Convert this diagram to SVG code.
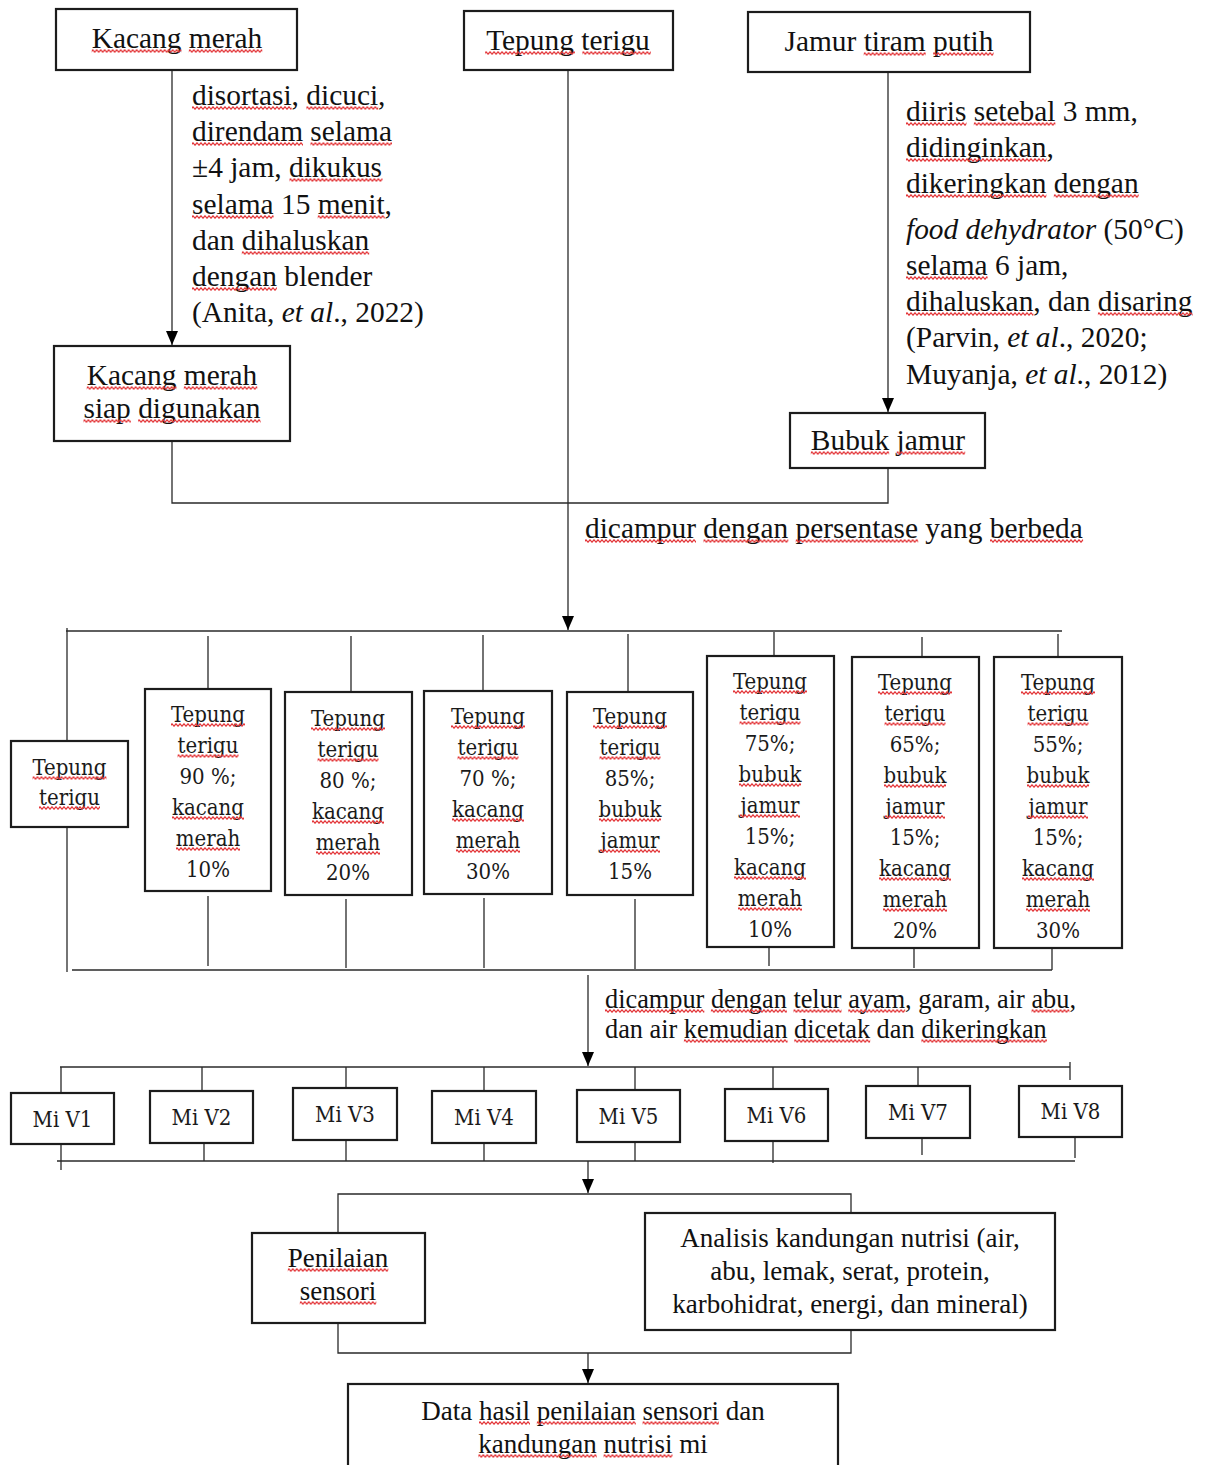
<svg xmlns="http://www.w3.org/2000/svg" width="1212" height="1465" viewBox="0 0 1212 1465">
<style>
.box{fill:#fff;stroke:#1c1c1c;stroke-width:2.2}
.ln{fill:none;stroke:#2a2a2a;stroke-width:1.3}
.t{font-family:'Liberation Serif','Times New Roman',serif;fill:#111;font-size:29.4px}
.b{font-family:'Liberation Serif','Times New Roman',serif;fill:#111;font-size:27px}
.s{font-family:'Liberation Serif','Times New Roman',serif;fill:#111;font-size:26.3px}
.c{font-family:'DejaVu Serif Condensed','DejaVu Serif',serif;font-stretch:condensed;fill:#1a1a1a;font-size:22px}
.m{text-anchor:middle}
.i{font-style:italic}
.w{fill:url(#wv)}
</style>
<defs>
<marker id="ah" viewBox="0 0 14 12" refX="14" refY="6" markerWidth="14" markerHeight="12" markerUnits="userSpaceOnUse" orient="auto">
<path d="M0,0 L14,6 L0,12 z" fill="#000"/>
</marker>
<pattern id="wv" width="4" height="4" patternUnits="userSpaceOnUse">
<path d="M-1,3.2 L1,0.8 L3,3.2 L5,0.8" fill="none" stroke="#e33538" stroke-width="1.15"/>
</pattern>
</defs>
<rect width="1212" height="1465" fill="#fff"/>

<g id="connectors">
<line class="ln" x1="172" y1="70" x2="172" y2="345" marker-end="url(#ah)"/>
<line class="ln" x1="568" y1="70" x2="568" y2="630" marker-end="url(#ah)"/>
<line class="ln" x1="888" y1="72" x2="888" y2="412" marker-end="url(#ah)"/>
<polyline class="ln" points="172,441 172,503 888,503 888,468"/>
<line class="ln" x1="66" y1="631" x2="1062" y2="631"/>
<line class="ln" x1="67" y1="628" x2="67" y2="741"/>
<line class="ln" x1="67" y1="827" x2="67" y2="972"/>
<path class="ln" d="M208,636V689 M351,636V692 M483,635V691 M628,634V692 M774,632V656 M922,637V657 M1058,634V657"/>
<path class="ln" d="M208,896V966 M346,899V968 M484,898V968 M635,899V969 M769,947V966 M914,948V968 M1052,948V970"/>
<line class="ln" x1="72" y1="970" x2="1052" y2="970"/>
<line class="ln" x1="588" y1="975" x2="588" y2="1066" marker-end="url(#ah)"/>
<line class="ln" x1="60" y1="1067" x2="1070" y2="1067"/>
<path class="ln" d="M1070,1062V1080 M61,1067V1093 M202,1067V1091 M346,1067V1088 M484,1067V1091 M635,1067V1090 M773,1067V1089 M918,1067V1086"/>
<path class="ln" d="M61,1144V1170 M204,1143V1161 M346,1140V1161 M484,1143V1161 M635,1142V1161 M773,1141V1163 M922,1138V1155 M1075,1137V1158"/>
<line class="ln" x1="57" y1="1161" x2="1075" y2="1161"/>
<line class="ln" x1="588" y1="1161" x2="588" y2="1193" marker-end="url(#ah)"/>
<polyline class="ln" points="338,1233 338,1194 851,1194 851,1213"/>
<polyline class="ln" points="338,1323 338,1353 851,1353 851,1330"/>
<line class="ln" x1="588" y1="1353" x2="588" y2="1383" marker-end="url(#ah)"/>
</g>

<g id="n-kacang">
<rect class="box" x="56" y="9" width="241" height="61"/>
<text class="t m" x="177" y="48">Kacang merah</text>
</g>
<g id="lbl-kacang">
<text class="t" x="192" y="105">disortasi, dicuci,</text>
<text class="t" x="192" y="141">direndam selama</text>
<text class="t" x="192" y="177">±4 jam, dikukus</text>
<text class="t" x="192" y="214">selama 15 menit,</text>
<text class="t" x="192" y="250">dan dihaluskan</text>
<text class="t" x="192" y="286">dengan blender</text>
<text class="t" x="192" y="322">(Anita, <tspan class="i">et al</tspan>., 2022)</text>
</g>
<g id="n-tepung">
<rect class="box" x="464" y="11" width="209" height="59"/>
<text class="t m" x="568" y="50">Tepung terigu</text>
</g>
<g id="n-jamur">
<rect class="box" x="748" y="12" width="282" height="60"/>
<text class="t m" x="889" y="51">Jamur tiram putih</text>
</g>
<g id="lbl-jamur">
<text class="t" x="906" y="121">diiris setebal 3 mm,</text>
<text class="t" x="906" y="157">didinginkan,</text>
<text class="t" x="906" y="193">dikeringkan dengan</text>
<text class="t" x="906" y="239"><tspan class="i">food dehydrator</tspan> (50°C)</text>
<text class="t" x="906" y="275">selama 6 jam,</text>
<text class="t" x="906" y="311">dihaluskan, dan disaring</text>
<text class="t" x="906" y="347">(Parvin, <tspan class="i">et al</tspan>., 2020;</text>
<text class="t" x="906" y="384">Muyanja, <tspan class="i">et al</tspan>., 2012)</text>
</g>
<g id="n-kacang-siap">
<rect class="box" x="54" y="346" width="236" height="95"/>
<text class="t m" x="172" y="385">Kacang merah</text>
<text class="t m" x="172" y="418">siap digunakan</text>
</g>
<g id="n-bubuk">
<rect class="box" x="790" y="413" width="195" height="55"/>
<text class="t m" x="888" y="450">Bubuk jamur</text>
</g>
<g id="lbl-campur1">
<text class="t" x="585" y="538">dicampur dengan persentase yang berbeda</text>
</g>

<g id="n-v1">
<rect class="box" x="11" y="741" width="117" height="86"/>
<text class="c m" x="69.5" y="775">Tepung</text>
<text class="c m" x="69.5" y="805">terigu</text>
</g>
<g id="n-v2">
<rect class="box" x="145" y="689" width="126" height="202"/>
<text class="c m" x="208" y="722">Tepung</text>
<text class="c m" x="208" y="753">terigu</text>
<text class="c m" x="208" y="784">90 %;</text>
<text class="c m" x="208" y="815">kacang</text>
<text class="c m" x="208" y="846">merah</text>
<text class="c m" x="208" y="877">10%</text>
</g>
<g id="n-v3">
<rect class="box" x="285" y="692" width="127" height="203"/>
<text class="c m" x="348" y="726">Tepung</text>
<text class="c m" x="348" y="757">terigu</text>
<text class="c m" x="348" y="788">80 %;</text>
<text class="c m" x="348" y="819">kacang</text>
<text class="c m" x="348" y="850">merah</text>
<text class="c m" x="348" y="880">20%</text>
</g>
<g id="n-v4">
<rect class="box" x="424" y="691" width="128" height="203"/>
<text class="c m" x="488" y="724">Tepung</text>
<text class="c m" x="488" y="755">terigu</text>
<text class="c m" x="488" y="786">70 %;</text>
<text class="c m" x="488" y="817">kacang</text>
<text class="c m" x="488" y="848">merah</text>
<text class="c m" x="488" y="879">30%</text>
</g>
<g id="n-v5">
<rect class="box" x="567" y="692" width="126" height="203"/>
<text class="c m" x="630" y="724">Tepung</text>
<text class="c m" x="630" y="755">terigu</text>
<text class="c m" x="630" y="786">85%;</text>
<text class="c m" x="630" y="817">bubuk</text>
<text class="c m" x="630" y="848">jamur</text>
<text class="c m" x="630" y="879">15%</text>
</g>
<g id="n-v6">
<rect class="box" x="707" y="656" width="127" height="291"/>
<text class="c m" x="770" y="689">Tepung</text>
<text class="c m" x="770" y="720">terigu</text>
<text class="c m" x="770" y="751">75%;</text>
<text class="c m" x="770" y="782">bubuk</text>
<text class="c m" x="770" y="813">jamur</text>
<text class="c m" x="770" y="844">15%;</text>
<text class="c m" x="770" y="875">kacang</text>
<text class="c m" x="770" y="906">merah</text>
<text class="c m" x="770" y="937">10%</text>
</g>
<g id="n-v7">
<rect class="box" x="852" y="657" width="127" height="291"/>
<text class="c m" x="915" y="690">Tepung</text>
<text class="c m" x="915" y="721">terigu</text>
<text class="c m" x="915" y="752">65%;</text>
<text class="c m" x="915" y="783">bubuk</text>
<text class="c m" x="915" y="814">jamur</text>
<text class="c m" x="915" y="845">15%;</text>
<text class="c m" x="915" y="876">kacang</text>
<text class="c m" x="915" y="907">merah</text>
<text class="c m" x="915" y="938">20%</text>
</g>
<g id="n-v8">
<rect class="box" x="994" y="657" width="128" height="291"/>
<text class="c m" x="1058" y="690">Tepung</text>
<text class="c m" x="1058" y="721">terigu</text>
<text class="c m" x="1058" y="752">55%;</text>
<text class="c m" x="1058" y="783">bubuk</text>
<text class="c m" x="1058" y="814">jamur</text>
<text class="c m" x="1058" y="845">15%;</text>
<text class="c m" x="1058" y="876">kacang</text>
<text class="c m" x="1058" y="907">merah</text>
<text class="c m" x="1058" y="938">30%</text>
</g>

<g id="lbl-campur2">
<text class="s" x="605" y="1008">dicampur dengan telur ayam, garam, air abu,</text>
<text class="s" x="605" y="1038">dan air kemudian dicetak dan dikeringkan</text>
</g>

<g id="n-mi1"><rect class="box" x="11" y="1093" width="103" height="51"/><text class="c m" x="62.5" y="1127">Mi V1</text></g>
<g id="n-mi2"><rect class="box" x="150" y="1091" width="103" height="52"/><text class="c m" x="201.5" y="1125">Mi V2</text></g>
<g id="n-mi3"><rect class="box" x="293" y="1088" width="104" height="52"/><text class="c m" x="345" y="1122">Mi V3</text></g>
<g id="n-mi4"><rect class="box" x="432" y="1091" width="104" height="52"/><text class="c m" x="484" y="1125">Mi V4</text></g>
<g id="n-mi5"><rect class="box" x="577" y="1090" width="103" height="52"/><text class="c m" x="628.5" y="1124">Mi V5</text></g>
<g id="n-mi6"><rect class="box" x="725" y="1089" width="103" height="52"/><text class="c m" x="776.5" y="1123">Mi V6</text></g>
<g id="n-mi7"><rect class="box" x="866" y="1086" width="104" height="52"/><text class="c m" x="918" y="1120">Mi V7</text></g>
<g id="n-mi8"><rect class="box" x="1019" y="1086" width="103" height="51"/><text class="c m" x="1070.5" y="1119">Mi V8</text></g>

<g id="n-sensori">
<rect class="box" x="252" y="1233" width="173" height="90"/>
<text class="b m" x="338" y="1267">Penilaian</text>
<text class="b m" x="338" y="1300">sensori</text>
</g>
<g id="n-analisis">
<rect class="box" x="645" y="1213" width="410" height="117"/>
<text class="b m" x="850" y="1247">Analisis kandungan nutrisi (air,</text>
<text class="b m" x="850" y="1280">abu, lemak, serat, protein,</text>
<text class="b m" x="850" y="1313">karbohidrat, energi, dan mineral)</text>
</g>
<g id="n-data">
<rect class="box" x="348" y="1384" width="490" height="110"/>
<text class="b m" x="593" y="1420">Data hasil penilaian sensori dan</text>
<text class="b m" x="593" y="1453">kandungan nutrisi mi</text>
</g>

<g id="spell-marks">
<rect class="w" transform="translate(91.7,49)" width="89.8" height="4"/>
<rect class="w" transform="translate(188.8,49)" width="73.5" height="4"/>
<rect class="w" transform="translate(192,106)" width="99.6" height="4"/>
<rect class="w" transform="translate(306.3,106)" width="71.9" height="4"/>
<rect class="w" transform="translate(192,142)" width="111" height="4"/>
<rect class="w" transform="translate(310.4,142)" width="81.6" height="4"/>
<rect class="w" transform="translate(289.4,178)" width="93.1" height="4"/>
<rect class="w" transform="translate(192,215)" width="81.6" height="4"/>
<rect class="w" transform="translate(317.7,215)" width="67" height="4"/>
<rect class="w" transform="translate(241.8,251)" width="127.4" height="4"/>
<rect class="w" transform="translate(192,287)" width="84.9" height="4"/>
<rect class="w" transform="translate(485.1,51)" width="89.8" height="4"/>
<rect class="w" transform="translate(582.3,51)" width="68.6" height="4"/>
<rect class="w" transform="translate(863.7,52)" width="62.1" height="4"/>
<rect class="w" transform="translate(933.1,52)" width="60.5" height="4"/>
<rect class="w" transform="translate(906,122)" width="60.5" height="4"/>
<rect class="w" transform="translate(973.8,122)" width="81.6" height="4"/>
<rect class="w" transform="translate(906,158)" width="140.5" height="4"/>
<rect class="w" transform="translate(906,194)" width="140.4" height="4"/>
<rect class="w" transform="translate(1053.8,194)" width="84.9" height="4"/>
<rect class="w" transform="translate(906,276)" width="81.6" height="4"/>
<rect class="w" transform="translate(906,312)" width="127.4" height="4"/>
<rect class="w" transform="translate(1097.9,312)" width="94.7" height="4"/>
<rect class="w" transform="translate(86.7,386)" width="89.8" height="4"/>
<rect class="w" transform="translate(183.8,386)" width="73.5" height="4"/>
<rect class="w" transform="translate(83.4,419)" width="47.4" height="4"/>
<rect class="w" transform="translate(138.1,419)" width="122.5" height="4"/>
<rect class="w" transform="translate(810.8,451)" width="78.4" height="4"/>
<rect class="w" transform="translate(896.6,451)" width="68.6" height="4"/>
<rect class="w" transform="translate(585,539)" width="111" height="4"/>
<rect class="w" transform="translate(703.4,539)" width="84.9" height="4"/>
<rect class="w" transform="translate(795.7,539)" width="122.5" height="4"/>
<rect class="w" transform="translate(990,539)" width="93.1" height="4"/>

<rect class="w" transform="translate(32.5,776)" width="74" height="4"/>
<rect class="w" transform="translate(39,806)" width="61" height="4"/>
<rect class="w" transform="translate(171,723)" width="74" height="4"/>
<rect class="w" transform="translate(177.5,754)" width="61" height="4"/>
<rect class="w" transform="translate(172,816)" width="72" height="4"/>
<rect class="w" transform="translate(176,847)" width="64" height="4"/>
<rect class="w" transform="translate(311,727)" width="74" height="4"/>
<rect class="w" transform="translate(317.5,758)" width="61" height="4"/>
<rect class="w" transform="translate(312,820)" width="72" height="4"/>
<rect class="w" transform="translate(316,851)" width="64" height="4"/>
<rect class="w" transform="translate(451,725)" width="74" height="4"/>
<rect class="w" transform="translate(457.5,756)" width="61" height="4"/>
<rect class="w" transform="translate(452,818)" width="72" height="4"/>
<rect class="w" transform="translate(456,849)" width="64" height="4"/>
<rect class="w" transform="translate(593,725)" width="74" height="4"/>
<rect class="w" transform="translate(599.5,756)" width="61" height="4"/>
<rect class="w" transform="translate(599,818)" width="62" height="4"/>
<rect class="w" transform="translate(600,849)" width="60" height="4"/>
<rect class="w" transform="translate(733,690)" width="74" height="4"/>
<rect class="w" transform="translate(739.5,721)" width="61" height="4"/>
<rect class="w" transform="translate(739,783)" width="62" height="4"/>
<rect class="w" transform="translate(740,814)" width="60" height="4"/>
<rect class="w" transform="translate(734,876)" width="72" height="4"/>
<rect class="w" transform="translate(738,907)" width="64" height="4"/>
<rect class="w" transform="translate(878,691)" width="74" height="4"/>
<rect class="w" transform="translate(884.5,722)" width="61" height="4"/>
<rect class="w" transform="translate(884,784)" width="62" height="4"/>
<rect class="w" transform="translate(885,815)" width="60" height="4"/>
<rect class="w" transform="translate(879,877)" width="72" height="4"/>
<rect class="w" transform="translate(883,908)" width="64" height="4"/>
<rect class="w" transform="translate(1021,691)" width="74" height="4"/>
<rect class="w" transform="translate(1027.5,722)" width="61" height="4"/>
<rect class="w" transform="translate(1027,784)" width="62" height="4"/>
<rect class="w" transform="translate(1028,815)" width="60" height="4"/>
<rect class="w" transform="translate(1022,877)" width="72" height="4"/>
<rect class="w" transform="translate(1026,908)" width="64" height="4"/>

<rect class="w" transform="translate(605,1009)" width="99.3" height="4"/>
<rect class="w" transform="translate(710.9,1009)" width="76" height="4"/>
<rect class="w" transform="translate(793.4,1009)" width="48.2" height="4"/>
<rect class="w" transform="translate(848.2,1009)" width="57" height="4"/>
<rect class="w" transform="translate(1031.5,1009)" width="38" height="4"/>
<rect class="w" transform="translate(683.9,1039)" width="103.7" height="4"/>
<rect class="w" transform="translate(794.2,1039)" width="76" height="4"/>
<rect class="w" transform="translate(921.3,1039)" width="125.6" height="4"/>
<rect class="w" transform="translate(287.8,1268)" width="100.5" height="4"/>
<rect class="w" transform="translate(299.8,1301)" width="76.5" height="4"/>
<rect class="w" transform="translate(479,1421)" width="51" height="4"/>
<rect class="w" transform="translate(536.8,1421)" width="99" height="4"/>
<rect class="w" transform="translate(642.5,1421)" width="76.5" height="4"/>
<rect class="w" transform="translate(478.3,1454)" width="118.5" height="4"/>
<rect class="w" transform="translate(603.5,1454)" width="69" height="4"/>
</g>
</svg>
